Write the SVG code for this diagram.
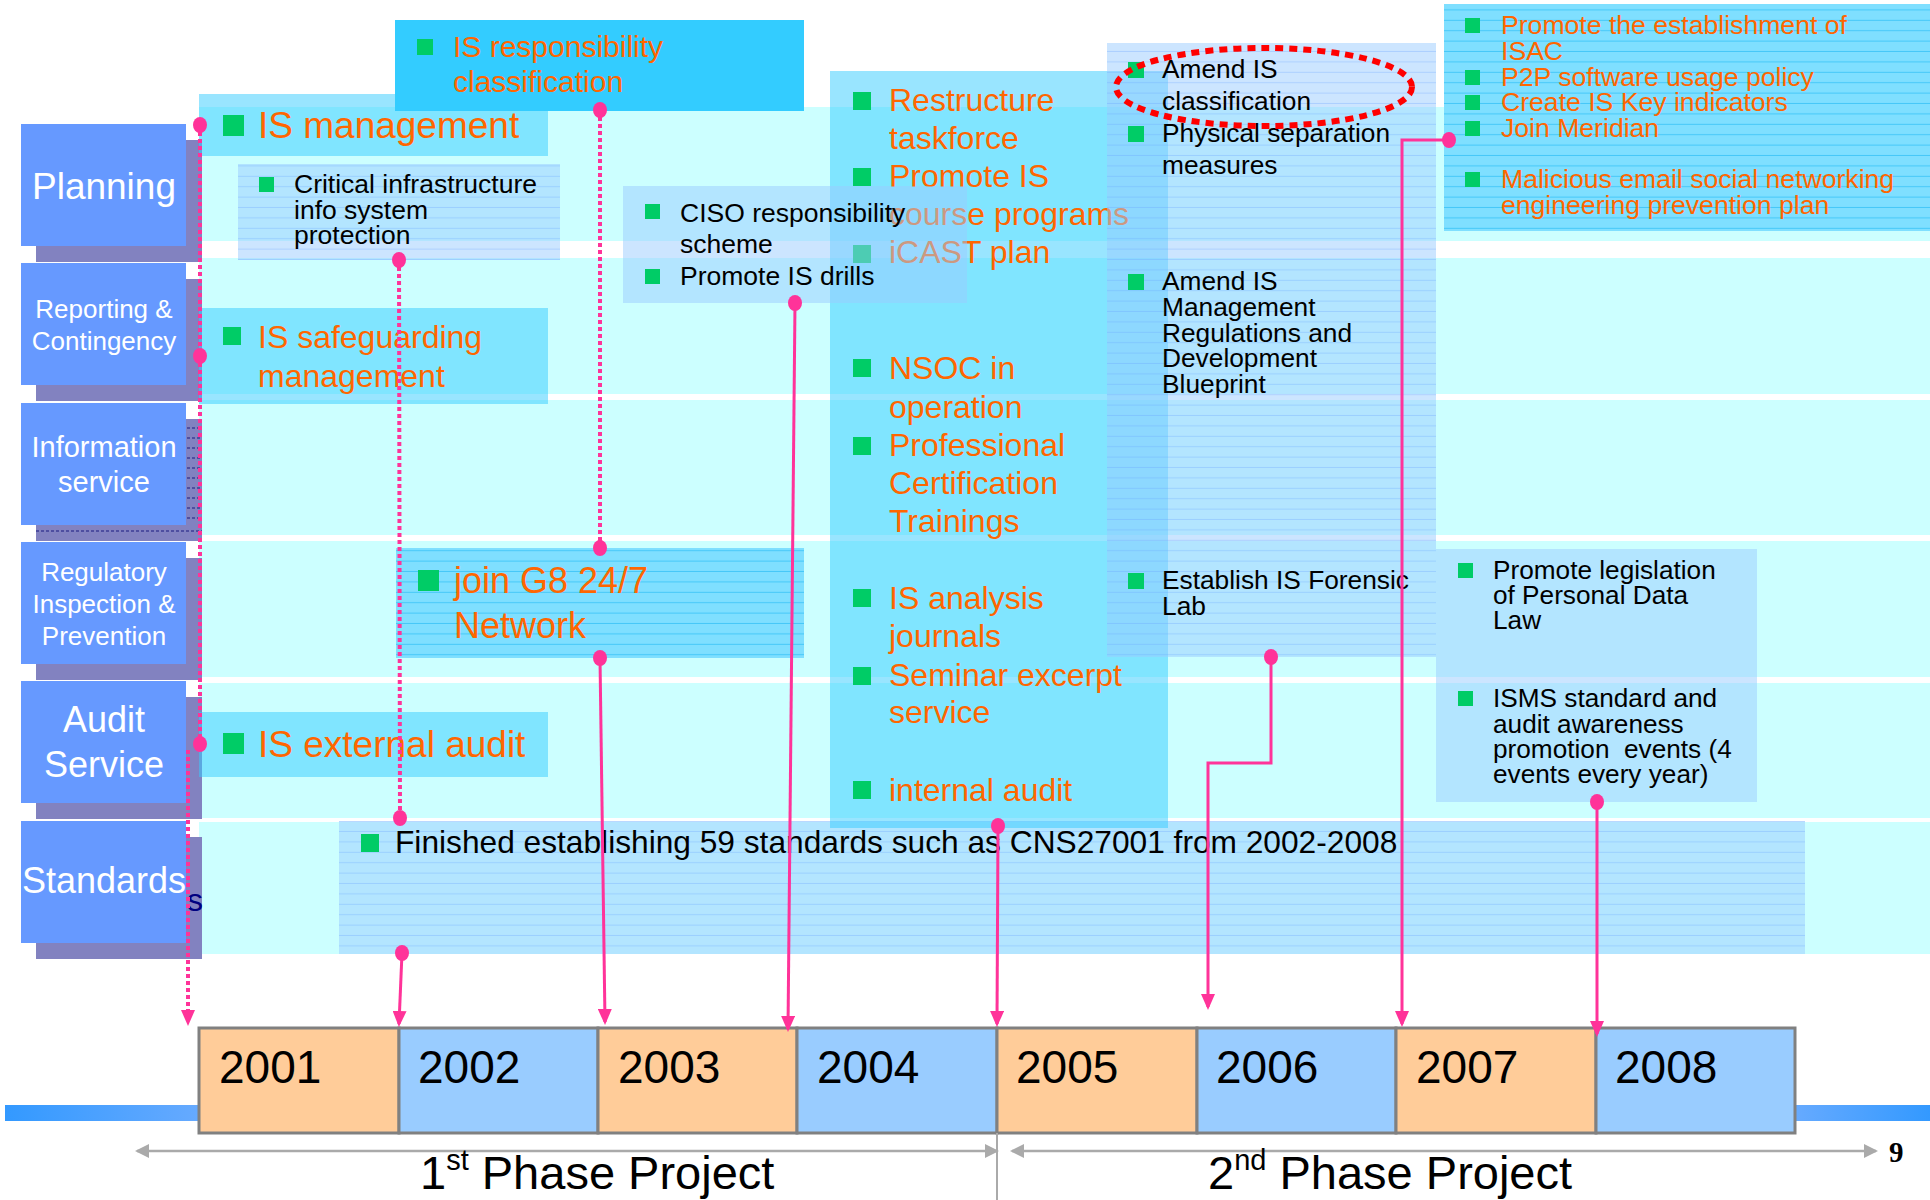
<svg xmlns="http://www.w3.org/2000/svg" width="1930" height="1200" viewBox="0 0 1930 1200">
<defs>
<style>
text{font-family:"Liberation Sans",Arial,sans-serif}
.cat{fill:#6699FF}
.sh{fill:#8282C0}
.ct{fill:#FFFFFF;text-anchor:middle}
.band{fill:#CCFFFF}
.mid{fill:rgba(51,204,255,0.5)}
.lb{fill:rgba(153,204,255,0.5)}
.br{fill:#7FDFFF}
.or{fill:#FF6600}
.bk{fill:#000000}
.bul{fill:#00CC66}
.c{stroke:#FF3399;stroke-width:3;fill:none}
.d{stroke:#FF3399;stroke-width:4;fill:none;stroke-dasharray:4 3}
.dot{fill:#FF3399}
.yo{fill:#FFCC99;stroke:#808080;stroke-width:3}
.yb{fill:#99CCFF;stroke:#808080;stroke-width:3}
.yt{font-size:46px;fill:#000}
.ph{font-size:47px;fill:#000}
.gl{stroke:#AAAAAA;stroke-width:2.5;fill:none}
</style>
<pattern id="lnB" width="20" height="10.4" patternUnits="userSpaceOnUse"><rect y="9.4" width="20" height="1" fill="rgba(100,160,255,0.3)"/></pattern>
<pattern id="lnC" width="20" height="10.4" patternUnits="userSpaceOnUse"><rect y="9.4" width="20" height="1" fill="rgba(0,170,240,0.45)"/></pattern>
<linearGradient id="gL" x1="0" x2="1" y1="0" y2="0"><stop offset="0" stop-color="#3399FF"/><stop offset="1" stop-color="#66AAFF"/></linearGradient>
<linearGradient id="gR" x1="0" x2="1" y1="0" y2="0"><stop offset="0" stop-color="#66AAFF"/><stop offset="1" stop-color="#3399FF"/></linearGradient>
<marker id="ah" viewBox="0 0 16 14" refX="13" refY="7" markerWidth="16" markerHeight="14" markerUnits="userSpaceOnUse" orient="auto"><path d="M0,0 L16,7 L0,14 z" fill="#FF3399"/></marker>
<marker id="ga" viewBox="0 0 14 14" refX="12" refY="7" markerWidth="14" markerHeight="14" markerUnits="userSpaceOnUse" orient="auto-start-reverse"><path d="M0,0 L14,7 L0,14 z" fill="#AAAAAA"/></marker>
</defs>
<rect width="1930" height="1200" fill="#FFFFFF"/>

<g id="bands">
<rect class="band" x="199" y="107" width="1731" height="134"/>
<rect class="band" x="199" y="258" width="1731" height="136"/>
<rect class="band" x="199" y="400" width="1731" height="135"/>
<rect class="band" x="199" y="541" width="1731" height="136"/>
<rect class="band" x="199" y="683" width="1731" height="135"/>
<rect class="band" x="199" y="822" width="1731" height="132"/>
</g>

<g id="bars">
<rect x="5" y="1105" width="194" height="16" fill="url(#gL)"/>
<rect x="1795" y="1105" width="135" height="16" fill="url(#gR)"/>
</g>

<g id="cat-planning">
<rect class="sh" x="36" y="140" width="166" height="122"/>
<rect class="cat" x="21" y="124" width="165" height="122"/>
<text class="ct" x="104" y="199" font-size="37">Planning</text>
</g>
<g id="cat-reporting">
<rect class="sh" x="36" y="279" width="166" height="122"/>
<rect class="cat" x="21" y="263" width="165" height="122"/>
<text class="ct" x="104" y="318" font-size="26">Reporting &amp;</text>
<text class="ct" x="104" y="350" font-size="26">Contingency</text>
</g>
<g id="cat-information">
<rect class="sh" x="36" y="419" width="166" height="122"/>
<path d="M187,428h15M187,438h15M187,448h15M187,458h15M187,468h15M187,478h15M187,488h15M187,498h15M187,508h15M187,518h15M36,531h166" stroke="#1A1A80" stroke-width="1" stroke-dasharray="3 2"/>
<rect class="cat" x="21" y="403" width="165" height="122"/>
<text class="ct" x="104" y="457" font-size="29">Information</text>
<text class="ct" x="104" y="492" font-size="29">service</text>
</g>
<g id="cat-regulatory">
<rect class="sh" x="36" y="558" width="166" height="122"/>
<rect class="cat" x="21" y="542" width="165" height="122"/>
<text class="ct" x="104" y="581" font-size="26">Regulatory</text>
<text class="ct" x="104" y="613" font-size="26">Inspection &amp;</text>
<text class="ct" x="104" y="645" font-size="26">Prevention</text>
</g>
<g id="cat-audit">
<rect class="sh" x="36" y="697" width="166" height="122"/>
<rect class="cat" x="21" y="681" width="165" height="122"/>
<text class="ct" x="104" y="732" font-size="36">Audit</text>
<text class="ct" x="104" y="777" font-size="36">Service</text>
</g>
<g id="cat-standards">
<rect class="sh" x="36" y="837" width="166" height="122"/>
<text x="187" y="911" font-size="32" fill="#000080">s</text>
<rect class="cat" x="21" y="821" width="165" height="122"/>
<text class="ct" x="104" y="893" font-size="36">Standards</text>
</g>

<g id="n-is-management">
<rect class="mid" x="199" y="94" width="349" height="62"/>
<rect class="bul" x="223" y="115" width="21" height="21"/>
<text class="or" x="258" y="138" font-size="37">IS management</text>
</g>

<g id="n-critical">
<rect class="lb" x="238" y="164" width="322" height="96"/>
<rect fill="url(#lnB)" x="238" y="164" width="322" height="96"/>
<rect class="bul" x="259" y="177" width="15" height="15"/>
<text class="bk" x="294" y="193" font-size="26.5">Critical infrastructure</text>
<text class="bk" x="294" y="219" font-size="26.5">info system</text>
<text class="bk" x="294" y="244" font-size="26.5">protection</text>
</g>

<g id="n-safeguarding">
<rect class="mid" x="199" y="308" width="349" height="96"/>
<rect class="bul" x="223" y="327" width="18" height="18"/>
<text class="or" x="258" y="348" font-size="32">IS safeguarding</text>
<text class="or" x="258" y="387" font-size="32">management</text>
</g>

<g id="n-external-audit">
<rect class="mid" x="199" y="712" width="349" height="65"/>
<rect class="bul" x="223" y="733" width="21" height="21"/>
<text class="or" x="258" y="757" font-size="37">IS external audit</text>
</g>

<g id="n-g8">
<rect class="br" x="396" y="548" width="408" height="110"/>
<rect fill="url(#lnC)" x="396" y="548" width="408" height="110"/>
<rect class="bul" x="418" y="570" width="21" height="21"/>
<text class="or" x="454" y="593" font-size="36">join G8 24/7</text>
<text class="or" x="454" y="638" font-size="36">Network</text>
</g>

<g id="n-standards">
<rect class="lb" x="339" y="821" width="1466" height="133"/>
<rect fill="url(#lnB)" x="339" y="821" width="1466" height="133"/>
<rect class="bul" x="361" y="834" width="18" height="18"/>
<text class="bk" x="395" y="853" font-size="31.7">Finished establishing 59 standards such as CNS27001 from 2002-2008</text>
</g>

<g id="n-middle">
<rect class="mid" x="830" y="71" width="338" height="757"/>
<g class="or" font-size="32">
<text x="889" y="111">Restructure</text>
<text x="889" y="149">taskforce</text>
<text x="889" y="187">Promote IS</text>
<text x="889" y="225">course programs</text>
<text x="889" y="263">iCAST plan</text>
<text x="889" y="379">NSOC in</text>
<text x="889" y="418">operation</text>
<text x="889" y="456">Professional</text>
<text x="889" y="494">Certification</text>
<text x="889" y="532">Trainings</text>
<text x="889" y="609">IS analysis</text>
<text x="889" y="647">journals</text>
<text x="889" y="686">Seminar excerpt</text>
<text x="889" y="723">service</text>
<text x="889" y="801">internal audit</text>
</g>
<g class="bul">
<rect x="853" y="92" width="18" height="18"/>
<rect x="853" y="168" width="18" height="18"/>
<rect x="853" y="245" width="18" height="18"/>
<rect x="853" y="359" width="18" height="18"/>
<rect x="853" y="437" width="18" height="18"/>
<rect x="853" y="589" width="18" height="18"/>
<rect x="853" y="667" width="18" height="18"/>
<rect x="853" y="781" width="18" height="18"/>
</g>
</g>

<g id="n-ciso">
<rect class="lb" x="623" y="186" width="344" height="117"/>
<rect class="bul" x="645" y="204" width="15" height="15"/>
<rect class="bul" x="645" y="269" width="15" height="15"/>
<text class="bk" x="680" y="222" font-size="26.5">CISO responsibility</text>
<text class="bk" x="680" y="253" font-size="26.5">scheme</text>
<text class="bk" x="680" y="285" font-size="26.5">Promote IS drills</text>
</g>

<g id="n-amend">
<rect class="lb" x="1107" y="43" width="329" height="614"/>
<rect fill="url(#lnB)" x="1107" y="43" width="329" height="614"/>
<g class="bul">
<rect x="1128" y="62" width="16" height="16"/>
<rect x="1128" y="126" width="16" height="16"/>
<rect x="1128" y="274" width="16" height="16"/>
<rect x="1128" y="573" width="16" height="16"/>
</g>
<g class="bk" font-size="26.3">
<text x="1162" y="78">Amend IS</text>
<text x="1162" y="110">classification</text>
<text x="1162" y="142">Physical separation</text>
<text x="1162" y="174">measures</text>
<text x="1162" y="290">Amend IS</text>
<text x="1162" y="316">Management</text>
<text x="1162" y="342">Regulations and</text>
<text x="1162" y="367">Development</text>
<text x="1162" y="393">Blueprint</text>
<text x="1162" y="589">Establish IS Forensic</text>
<text x="1162" y="615">Lab</text>
</g>
<ellipse cx="1264" cy="87" rx="148" ry="39" fill="none" stroke="#FF0000" stroke-width="6" stroke-dasharray="8 6"/>
</g>

<g id="n-legislation">
<rect class="lb" x="1436" y="549" width="321" height="253"/>
<rect class="bul" x="1458" y="563" width="15" height="15"/>
<rect class="bul" x="1458" y="691" width="15" height="15"/>
<g class="bk" font-size="26.2" style="white-space:pre">
<text x="1493" y="579">Promote legislation</text>
<text x="1493" y="604">of Personal Data</text>
<text x="1493" y="629">Law</text>
<text x="1493" y="707">ISMS standard and</text>
<text x="1493" y="733">audit awareness</text>
<text x="1493" y="758" xml:space="preserve">promotion  events (4</text>
<text x="1493" y="783">events every year)</text>
</g>
</g>

<g id="n-topright">
<rect class="br" x="1444" y="4" width="486" height="227"/>
<rect fill="url(#lnC)" x="1444" y="4" width="486" height="227"/>
<g class="bul">
<rect x="1465" y="18" width="15" height="15"/>
<rect x="1465" y="70" width="15" height="15"/>
<rect x="1465" y="95" width="15" height="15"/>
<rect x="1465" y="121" width="15" height="15"/>
<rect x="1465" y="172" width="15" height="15"/>
</g>
<g class="or" font-size="26.6">
<text x="1501" y="34">Promote the establishment of</text>
<text x="1501" y="60">ISAC</text>
<text x="1501" y="86">P2P software usage policy</text>
<text x="1501" y="111">Create IS Key indicators</text>
<text x="1501" y="137">Join Meridian</text>
<text x="1501" y="188">Malicious email social networking</text>
<text x="1501" y="214">engineering prevention plan</text>
</g>
</g>

<g id="n-is-responsibility">
<rect x="395" y="20" width="409" height="91" fill="#33CCFF"/>
<rect class="bul" x="417" y="39" width="16" height="16"/>
<text class="or" x="453" y="57" font-size="30">IS responsibility</text>
<text class="or" x="453" y="92" font-size="30">classification</text>
</g>

<g id="timeline">
<rect class="yo" x="199" y="1028" width="200" height="105"/>
<rect class="yb" x="399" y="1028" width="199" height="105"/>
<rect class="yo" x="598" y="1028" width="199" height="105"/>
<rect class="yb" x="797" y="1028" width="200" height="105"/>
<rect class="yo" x="997" y="1028" width="200" height="105"/>
<rect class="yb" x="1197" y="1028" width="199" height="105"/>
<rect class="yo" x="1396" y="1028" width="200" height="105"/>
<rect class="yb" x="1596" y="1028" width="199" height="105"/>
<text class="yt" x="219" y="1083">2001</text>
<text class="yt" x="418" y="1083">2002</text>
<text class="yt" x="618" y="1083">2003</text>
<text class="yt" x="817" y="1083">2004</text>
<text class="yt" x="1016" y="1083">2005</text>
<text class="yt" x="1216" y="1083">2006</text>
<text class="yt" x="1416" y="1083">2007</text>
<text class="yt" x="1615" y="1083">2008</text>
</g>

<g id="phases">
<line class="gl" x1="137" y1="1151" x2="997" y2="1151" marker-start="url(#ga)" marker-end="url(#ga)"/>
<line class="gl" x1="1012" y1="1151" x2="1876" y2="1151" marker-start="url(#ga)" marker-end="url(#ga)"/>
<line x1="997" y1="1133" x2="997" y2="1200" stroke="#AAAAAA" stroke-width="2"/>
<text class="ph" x="420" y="1189">1<tspan font-size="29" dy="-19">st</tspan><tspan dy="19"> Phase Project</tspan></text>
<text class="ph" x="1208" y="1189">2<tspan font-size="29" dy="-19">nd</tspan><tspan dy="19"> Phase Project</tspan></text>
<text x="1889" y="1162" font-size="29" font-weight="bold" style="font-family:'Liberation Serif',serif">9</text>
</g>

<g id="connectors">
<path class="d" d="M200,125 V745"/>
<path class="d" d="M188,750 V1023" marker-end="url(#ah)"/>
<path class="d" d="M399,260 L400,818"/>
<path class="c" d="M402,953 L399,1024" marker-end="url(#ah)"/>
<path class="d" d="M600,110 V548"/>
<path class="c" d="M600,658 L605,1022" marker-end="url(#ah)"/>
<path class="c" d="M795,303 L788,1029" marker-end="url(#ah)"/>
<path class="c" d="M998,827 L997,1024" marker-end="url(#ah)"/>
<path class="c" d="M1271,657 V763 H1208 V1007" marker-end="url(#ah)"/>
<path class="c" d="M1449,140 H1402 V1024" marker-end="url(#ah)"/>
<path class="c" d="M1597,802 V1034" marker-end="url(#ah)"/>
<g class="dot">
<ellipse cx="200" cy="125" rx="7" ry="8"/>
<ellipse cx="200" cy="356" rx="7" ry="8"/>
<ellipse cx="200" cy="744" rx="7" ry="8"/>
<ellipse cx="399" cy="260" rx="7" ry="8"/>
<ellipse cx="400" cy="818" rx="7" ry="8"/>
<ellipse cx="402" cy="953" rx="7" ry="8"/>
<ellipse cx="600" cy="110" rx="7" ry="8"/>
<ellipse cx="600" cy="548" rx="7" ry="8"/>
<ellipse cx="600" cy="658" rx="7" ry="8"/>
<ellipse cx="795" cy="303" rx="7" ry="8"/>
<ellipse cx="998" cy="826" rx="7" ry="8"/>
<ellipse cx="1271" cy="657" rx="7" ry="8"/>
<ellipse cx="1449" cy="140" rx="7" ry="8"/>
<ellipse cx="1597" cy="802" rx="7" ry="8"/>
</g>
</g>
</svg>
